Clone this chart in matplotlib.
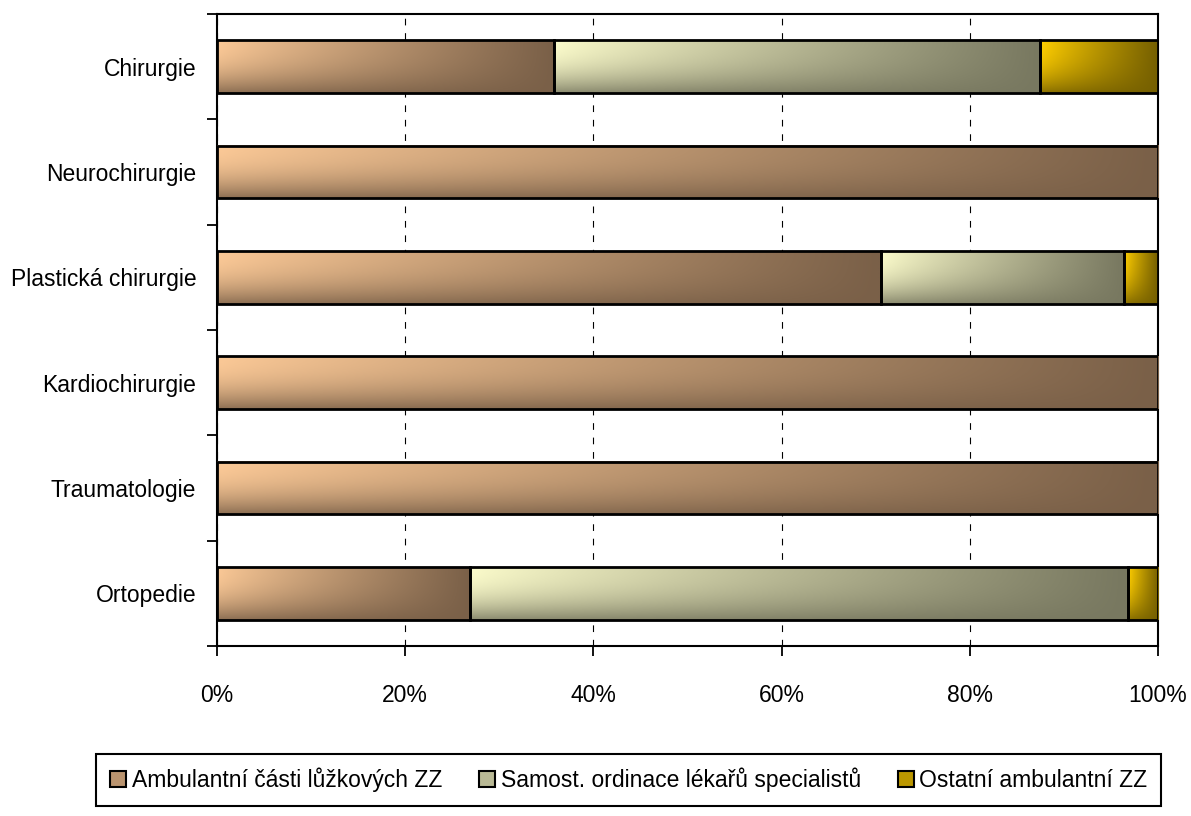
import numpy as np
import matplotlib
matplotlib.use('Agg')
import matplotlib.pyplot as plt
from matplotlib.patches import Patch

plt.rcParams['font.family'] = ['Liberation Sans', 'DejaVu Sans']

categories = ['Chirurgie', 'Neurochirurgie', 'Plastická chirurgie',
              'Kardiochirurgie', 'Traumatologie', 'Ortopedie']
luzkove = [35.8, 100.0, 70.6, 100.0, 100.0, 26.9]      # Ambulantní části lůžkových ZZ
specialiste = [51.7, 0.0, 25.8, 0.0, 0.0, 69.9]         # Samost. ordinace lékařů specialistů
ostatni = [12.5, 0.0, 3.6, 0.0, 0.0, 3.2]               # Ostatní ambulantní ZZ
series_names = ['Ambulantní části lůžkových ZZ',
                'Samost. ordinace lékařů specialistů',
                'Ostatní ambulantní ZZ']
xticks = [0, 20, 40, 60, 80, 100]

# light (top-left) and dark (right) colours of each gradient fill
light = [np.array([250, 200, 150]), np.array([250, 250, 202]), np.array([255, 206, 0])]
dark = [np.array([122, 96, 72]), np.array([120, 120, 96]), np.array([118, 96, 0])]


def gradient(lo, hi, n=80):
    u = np.linspace(0, 1, n)[None, :]
    v = np.linspace(0, 1, n)[:, None]
    d = 1 - (1 - u ** 0.9) * (1 - 0.85 * v ** 2.2)
    img = lo[None, None, :] * (1 - d[..., None]) + hi[None, None, :] * d[..., None]
    return img / 255.0


fig = plt.figure(figsize=(11.91, 8.16), dpi=100)
ax = fig.add_axes([0.1822, 0.2083, 0.7901, 0.7745])

y = np.arange(len(categories))
left = np.zeros(len(categories))
for i, vals in enumerate([luzkove, specialiste, ostatni]):
    vals = np.array(vals)
    bars = ax.barh(y, vals, left=left, height=0.5, facecolor='none',
                   edgecolor='black', linewidth=2.0, zorder=4)
    img = gradient(light[i], dark[i])
    for p in bars.patches:
        if p.get_width() <= 0:
            p.set_visible(False)
            continue
        x0, y0 = p.get_x(), p.get_y()
        ax.imshow(img, extent=(x0, x0 + p.get_width(), y0 + p.get_height(), y0),
                  origin='upper', aspect='auto', interpolation='bilinear', zorder=3)
    left = left + vals

ax.set_xlim(0, 100)
ax.set_ylim(len(categories) - 0.5, -0.5)

ax.set_xticks(xticks)
ax.set_xticklabels(['{}%'.format(t) for t in xticks])
ax.set_yticks(y)
ax.set_yticklabels(categories)
ax.set_yticks(np.arange(-0.5, len(categories), 1), minor=True)

ax.tick_params(axis='y', which='major', length=0, pad=15, labelsize=16.5)
ax.tick_params(axis='y', which='minor', length=7, width=1.3, direction='out')
ax.tick_params(axis='x', length=7, width=1.3, direction='out', pad=20, labelsize=16.5)

ax.xaxis.grid(True, linestyle=(0, (6, 7)), color='black', linewidth=0.8)
ax.set_axisbelow(True)
for s in ax.spines.values():
    s.set_linewidth(1.5)
    s.set_color('black')

handles = [Patch(facecolor=(light[i] * 0.5 + dark[i] * 0.5) / 255.0,
                 edgecolor='black', linewidth=1.5) for i in range(3)]
leg = fig.legend(handles, series_names, loc='center', ncol=3,
                 bbox_to_anchor=(0.528, 0.044), fontsize=16.5,
                 frameon=True, fancybox=False, edgecolor='black', framealpha=1,
                 handlelength=0.7, handleheight=0.7, handletextpad=0.25,
                 columnspacing=1.6, borderpad=0.6)
leg.get_frame().set_linewidth(1.5)

fig.savefig('out.png', dpi=100)
